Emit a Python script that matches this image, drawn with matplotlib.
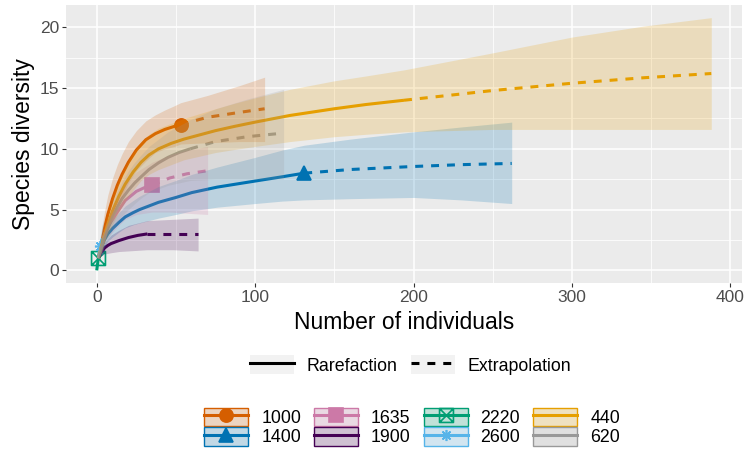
import numpy as np
import matplotlib
matplotlib.use('Agg')
import matplotlib.pyplot as plt
from matplotlib.lines import Line2D
from matplotlib.patches import Patch
from matplotlib.path import Path
from matplotlib.legend_handler import HandlerTuple

plt.rcParams['font.family'] = ['Liberation Sans', 'DejaVu Sans']

# sites (assemblages)
sites = ['1000', '1400', '1635', '1900', '2220', '2600', '440', '620']
colors = ['#D55E00', '#0072B2', '#CC79A7', '#440154', '#009E73', '#56B4E9', '#E69F00', '#999999']
n_obs = [53, 131, 35, 32, 1, 2, 194, 59]

# sample size m, diversity estimate and confidence limits
m1000 = [1, 3, 5, 7, 10, 13, 16, 20, 25, 31, 37, 43, 49, 53, 70, 90, 106]
d1000 = [1, 2.2, 3.5, 4.6, 5.9, 7.0, 7.9, 8.9, 9.9, 10.75, 11.25, 11.6, 11.85, 12.0, 12.6, 13.0, 13.3]
lo1000 = [1, 1.6, 2.5, 3.4, 4.4, 5.3, 6.1, 7.2, 8.2, 9.0, 9.7, 10.0, 10.2, 10.4, 10.5, 10.6, 10.6]
hi1000 = [1, 3.3, 4.9, 6.2, 7.6, 8.7, 9.6, 10.6, 11.5, 12.3, 12.8, 13.2, 13.55, 13.8, 14.4, 15.2, 15.9]

m1400 = [1, 3, 5, 7, 10, 14, 18, 23, 27, 33, 39, 50, 60, 76, 88, 100, 117, 131, 160, 200, 230, 262]
d1400 = [1, 2.0, 2.55, 3.0, 3.45, 3.95, 4.4, 4.75, 5.0, 5.3, 5.6, 6.0, 6.4, 6.85, 7.1, 7.35, 7.7, 8.0,
         8.3, 8.55, 8.7, 8.8]
lo1400 = [1, 1.6, 2.0, 2.4, 2.75, 3.15, 3.5, 3.75, 3.9, 4.1, 4.3, 4.6, 4.9, 5.2, 5.35, 5.5, 5.7, 5.8,
          5.9, 6.0, 5.8, 5.5]
hi1400 = [1, 2.4, 3.05, 3.6, 4.15, 4.75, 5.3, 5.75, 6.1, 6.5, 6.9, 7.4, 7.9, 8.5, 8.9, 9.3, 9.9, 10.3,
          10.8, 11.4, 11.8, 12.2]

m1635 = [1, 3, 5, 7, 9, 13, 18, 25, 30, 35, 46, 57, 70]
d1635 = [1, 2.1, 3.0, 3.55, 4.0, 4.8, 5.75, 6.5, 6.8, 7.0, 7.6, 7.95, 8.2]
lo1635 = [1, 1.6, 2.3, 2.7, 3.0, 3.6, 4.2, 4.6, 4.7, 4.8, 4.8, 4.7, 4.6]
hi1635 = [1, 2.6, 3.7, 4.4, 5.0, 6.0, 7.1, 8.1, 8.5, 8.9, 9.5, 9.9, 10.2]

m1900 = [1, 2, 3, 5, 7, 9, 14, 20, 26, 32, 48, 64]
d1900 = [1, 1.3, 1.5, 1.85, 2.05, 2.2, 2.45, 2.7, 2.88, 3.0, 3.0, 3.0]
lo1900 = [1, 1.1, 1.2, 1.35, 1.4, 1.45, 1.55, 1.6, 1.65, 1.7, 1.7, 1.6]
hi1900 = [1, 1.5, 1.8, 2.3, 2.6, 2.9, 3.3, 3.7, 3.9, 4.1, 4.2, 4.3]

m2220 = [0, 1, 2]
d2220 = [0, 1, 1]
lo2220 = [0, 1, 1]
hi2220 = [0, 1, 1]

m2600 = [1, 2, 3, 4]
d2600 = [1, 2, 2.4, 2.7]
lo2600 = [1, 1.3, 1.3, 1.3]
hi2600 = [1, 2.7, 3.5, 4.1]

m440 = [1, 3, 6, 10, 14, 18, 23, 28, 33, 39, 47, 55, 65, 75, 87, 100, 122, 150, 170, 194,
        250, 300, 345, 388]
d440 = [1, 2.0, 3.4, 4.9, 6.1, 7.1, 8.1, 8.9, 9.5, 10.0, 10.45, 10.8, 11.15, 11.5, 11.85, 12.2,
        12.75, 13.3, 13.65, 14.0, 14.8, 15.4, 15.85, 16.2]
lo440 = [1, 1.5, 2.6, 3.8, 4.8, 5.7, 6.6, 7.4, 7.9, 8.3, 8.7, 9.1, 9.4, 9.7, 9.95, 10.2,
         10.6, 11.0, 11.2, 11.4, 11.6, 11.6, 11.6, 11.6]
hi440 = [1, 2.5, 4.2, 6.0, 7.4, 8.5, 9.7, 10.6, 11.2, 11.7, 12.1, 12.5, 12.9, 13.3, 13.75, 14.2,
         14.9, 15.6, 16.0, 16.5, 17.9, 19.2, 20.1, 20.8]

m620 = [1, 3, 6, 10, 13, 16, 20, 24, 28, 33, 39, 45, 52, 59, 75, 95, 118]
d620 = [1, 1.9, 3.1, 4.4, 5.2, 5.9, 6.6, 7.2, 7.7, 8.3, 8.85, 9.3, 9.7, 10.0, 10.6, 11.0, 11.3]
lo620 = [1, 1.4, 2.3, 3.3, 3.9, 4.5, 5.0, 5.5, 5.95, 6.4, 6.7, 7.0, 7.2, 7.4, 7.5, 7.5, 7.5]
hi620 = [1, 2.4, 3.9, 5.5, 6.5, 7.3, 8.2, 8.9, 9.5, 10.2, 10.8, 11.4, 11.9, 12.4, 13.3, 14.1, 14.9]

curves = [
    (m1000, d1000, lo1000, hi1000),
    (m1400, d1400, lo1400, hi1400),
    (m1635, d1635, lo1635, hi1635),
    (m1900, d1900, lo1900, hi1900),
    (m2220, d2220, lo2220, hi2220),
    (m2600, d2600, lo2600, hi2600),
    (m440, d440, lo440, hi440),
    (m620, d620, lo620, hi620),
]

# square with a cross (R shape 7)
boxx = Path([(-1, -1), (1, -1), (1, 1), (-1, 1), (-1, -1), (-1, -1), (1, 1), (-1, 1), (1, -1)],
            [Path.MOVETO, Path.LINETO, Path.LINETO, Path.LINETO, Path.CLOSEPOLY,
             Path.MOVETO, Path.LINETO, Path.MOVETO, Path.LINETO])
markers = ['o', '^', 's', None, boxx, (8, 2, 0), None, None]
msizes = [9.5, 10, 10.5, 0, 10, 8, 0, 0]

dash = (0, (2.6, 2.6))
lw = 2.2

fig = plt.figure(figsize=(7.48, 4.5), dpi=100)
ax = fig.add_axes([66 / 748, 1 - 283 / 450, 676 / 748, 278 / 450])
ax.set_facecolor('#EBEBEB')
for sp in ax.spines.values():
    sp.set_visible(False)

for (m, d, lo, hi), c, nob, mk, ms in zip(curves, colors, n_obs, markers, msizes):
    m = np.array(m, float)
    d = np.array(d, float)
    if mk is not None:
        ax.plot([nob], [d[m == nob][0]], ls='none', marker=mk, ms=ms, color=c,
                mfc=('none' if mk is boxx else c), mew=1.2, zorder=2)
    rare = m <= nob
    ext = m >= nob
    ax.plot(m[rare], d[rare], color=c, lw=lw, solid_capstyle='butt', zorder=2.1)
    ax.plot(m[ext], d[ext], color=c, lw=lw, ls=dash, zorder=2.1)
    ax.fill_between(m, lo, hi, color=c, alpha=0.2, lw=0, zorder=2.2)

ax.set_xlim(-19.4, 407.4)
ax.set_ylim(-1.04, 21.84)
ax.set_xticks([0, 100, 200, 300, 400])
ax.set_xticks([50, 150, 250, 350], minor=True)
ax.set_yticks([0, 5, 10, 15, 20])
ax.set_yticks([2.5, 7.5, 12.5, 17.5], minor=True)
ax.grid(which='major', color='white', lw=1.1)
ax.grid(which='minor', color='white', lw=0.55)
ax.set_axisbelow(True)
ax.tick_params(which='minor', length=0)
ax.tick_params(which='major', length=3, width=0.8, color='#333333',
               labelsize=12.5, labelcolor='#4D4D4D', pad=2)

ax.set_xlabel('Number of individuals', fontsize=16.5)
ax.set_ylabel('Species diversity', fontsize=16.5)
ax.xaxis.set_label_coords(0.5, -0.1)
ax.yaxis.set_label_coords(-0.046, 0.5)

# linetype legend
key_bg = '#F2F2F2'
h_rare = (Patch(facecolor=key_bg, edgecolor='none'), Line2D([], [], color='black', lw=lw))
h_ext = (Patch(facecolor=key_bg, edgecolor='none'), Line2D([], [], color='black', lw=lw, ls=dash))
fig.legend([h_rare, h_ext], ['Rarefaction', 'Extrapolation'],
           handler_map={tuple: HandlerTuple(ndivide=1, pad=0)},
           ncol=2, loc='center', bbox_to_anchor=(0.549, 0.189), frameon=False,
           fontsize=12.8, handlelength=2.47, handleheight=1.24, handletextpad=0.73,
           columnspacing=0.73, borderpad=0)

# colour legend
handles = []
for c, mk, ms in zip(colors, markers, msizes):
    ln = Line2D([], [], color=c, lw=lw)
    if mk is not None:
        ln.set_marker(mk)
        ln.set_markersize(ms)
        ln.set_markerfacecolor('none' if mk is boxx else c)
        ln.set_markeredgewidth(1.2)
    handles.append((Patch(facecolor=key_bg, edgecolor='none'),
                    Patch(facecolor=matplotlib.colors.to_rgba(c, 0.2), edgecolor=c, lw=1),
                    ln))
fig.legend(handles, sites, handler_map={tuple: HandlerTuple(ndivide=1, pad=0)},
           ncol=4, loc='center', bbox_to_anchor=(0.551, 0.051), frameon=False,
           fontsize=12.8, handlelength=2.47, handleheight=1.24, handletextpad=0.73,
           columnspacing=0.73, labelspacing=0.0, borderpad=0)

fig.savefig('out.png', dpi=100)
